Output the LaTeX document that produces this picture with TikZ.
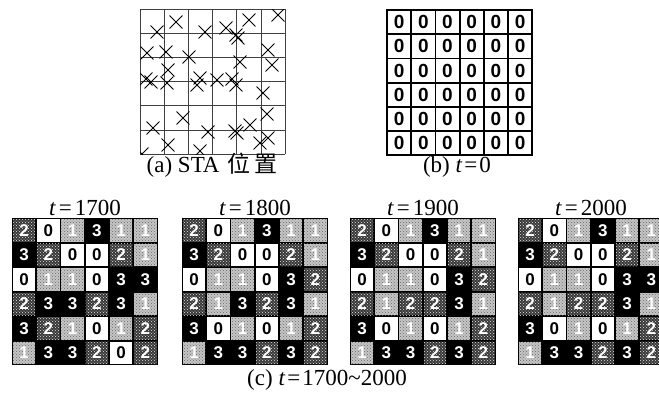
\documentclass[tikz,border=0pt]{standalone}
\usepackage{fontspec}
\setmainfont{Liberation Serif}
\setsansfont{Liberation Sans}
\newfontfamily\cjkfont{Noto Sans CJK SC}
\usetikzlibrary{patterns, shapes.misc}
\tikzset{
    cellbase/.style={rectangle, minimum width=22.3pt, minimum height=22.5pt, inner sep=0pt, font=\fontsize{17}{17}\selectfont\sffamily\bfseries},
    st0/.style={cellbase, fill=white, text=black},
    st1/.style={cellbase, fill=gray!45, postaction={pattern=crosshatch dots, pattern color=black!60}, text=white},
    st2/.style={cellbase, fill=black!78, postaction={pattern=crosshatch dots, pattern color=white!90!black}, text=white},
    st3/.style={cellbase, fill=black, text=white},
    zerobox/.style={rectangle, draw, line width=1.8pt, minimum size=24.2pt, inner sep=0pt, font=\fontsize{19}{19}\selectfont\sffamily\bfseries},
    sta/.style={cross out, draw, line width=0.9pt, minimum size=12pt, inner sep=0pt},
    tlabel/.style={anchor=base, font=\fontsize{23}{23}\selectfont},
    caption/.style={anchor=base, font=\fontsize{23}{23}\selectfont}
}
% one channel map: name, left, top, rows
\newcommand\chmap[4]{%
  \fill (#2,#3) rectangle ++(145.5,147);
  \foreach \row [count=\r] in {#4} {
    \foreach \v [count=\c] in \row {
      \node[st\v] (#1-\r-\c) at ({#2+(\c-0.5)*24.25}, {#3+(\r-0.5)*24.5}) {\v};
    }
  }
}

\begin{document}
\begin{tikzpicture}[x=1pt, y=-1pt]
  \clip (0,0) rectangle (659,392);
  % (a) STA positions
  \foreach \k in {0,...,6} {
    \draw[black!75, line width=0.9pt] ({140+\k*24.2},9) -- ++(0,145);
    \draw[black!75, line width=0.9pt] (140,{9+\k*24.2}) -- ++(145,0);
  }
  \begin{scope}
    \clip (140,9) rectangle (285,154);
    \foreach \x/\y [count=\i] in {176/22, 157/32, 205/32, 226/28, 249/20, 278/15, 236/35, 238/38,
        147/53, 166/52, 189/57, 268/50, 272/65, 240/62, 168/70, 146/79, 151/82, 167/83,
        200/78, 197/85, 217/80, 232/79, 236/85, 263/93, 183/118, 267/114, 153/128, 208/132,
        235/131, 237/133, 250/125, 168/145, 200/151, 260/143, 268/138, 142/154}
      \node[sta] (sta\i) at (\x,\y) {};
  \end{scope}
  \node[caption] (capa) at (212,172) {(a) STA \hspace{2pt}{\cjkfont 位\hspace{4pt}置}};

  % (b) t=0
  \foreach \r in {1,...,6}
    \foreach \c in {1,...,6}
      \node[zerobox] (b-\r-\c) at ({387+(\c-0.5)*24.2}, {10+(\r-0.5)*24.2}) {0};
  \node[caption] (capb) at (457,172) {(b) \textit{t}\hspace{2pt}=\hspace{2pt}0};

  % (c) t=1700~2000
  \chmap{m1700}{12}{218}{{2,0,1,3,1,1},{3,2,0,0,2,1},{0,1,1,0,3,3},{2,3,3,2,3,1},{3,2,1,0,1,2},{1,3,3,2,0,2}}
  \chmap{m1800}{182}{218}{{2,0,1,3,1,1},{3,2,0,0,2,1},{0,1,1,0,3,2},{2,1,3,2,3,1},{3,0,1,0,1,2},{1,3,3,2,3,2}}
  \chmap{m1900}{350}{218}{{2,0,1,3,1,1},{3,2,0,0,2,1},{0,1,1,0,3,2},{2,1,2,2,3,1},{3,0,1,0,1,2},{1,3,3,2,3,2}}
  \chmap{m2000}{518}{218}{{2,0,1,3,1,1},{3,2,0,0,2,1},{0,1,1,0,3,3},{2,1,2,2,3,1},{3,0,1,0,1,2},{1,3,3,2,3,2}}
  \node[tlabel] (t1700) at (85,215) {\textit{t}\hspace{3pt}=\hspace{3pt}1700};
  \node[tlabel] (t1800) at (255,215) {\textit{t}\hspace{3pt}=\hspace{3pt}1800};
  \node[tlabel] (t1900) at (423,215) {\textit{t}\hspace{3pt}=\hspace{3pt}1900};
  \node[tlabel] (t2000) at (591,215) {\textit{t}\hspace{3pt}=\hspace{3pt}2000};
  \node[caption] (capc) at (327,385) {(c) \textit{t}\hspace{2pt}=\hspace{2pt}1700\textasciitilde 2000};
\end{tikzpicture}
\end{document}
